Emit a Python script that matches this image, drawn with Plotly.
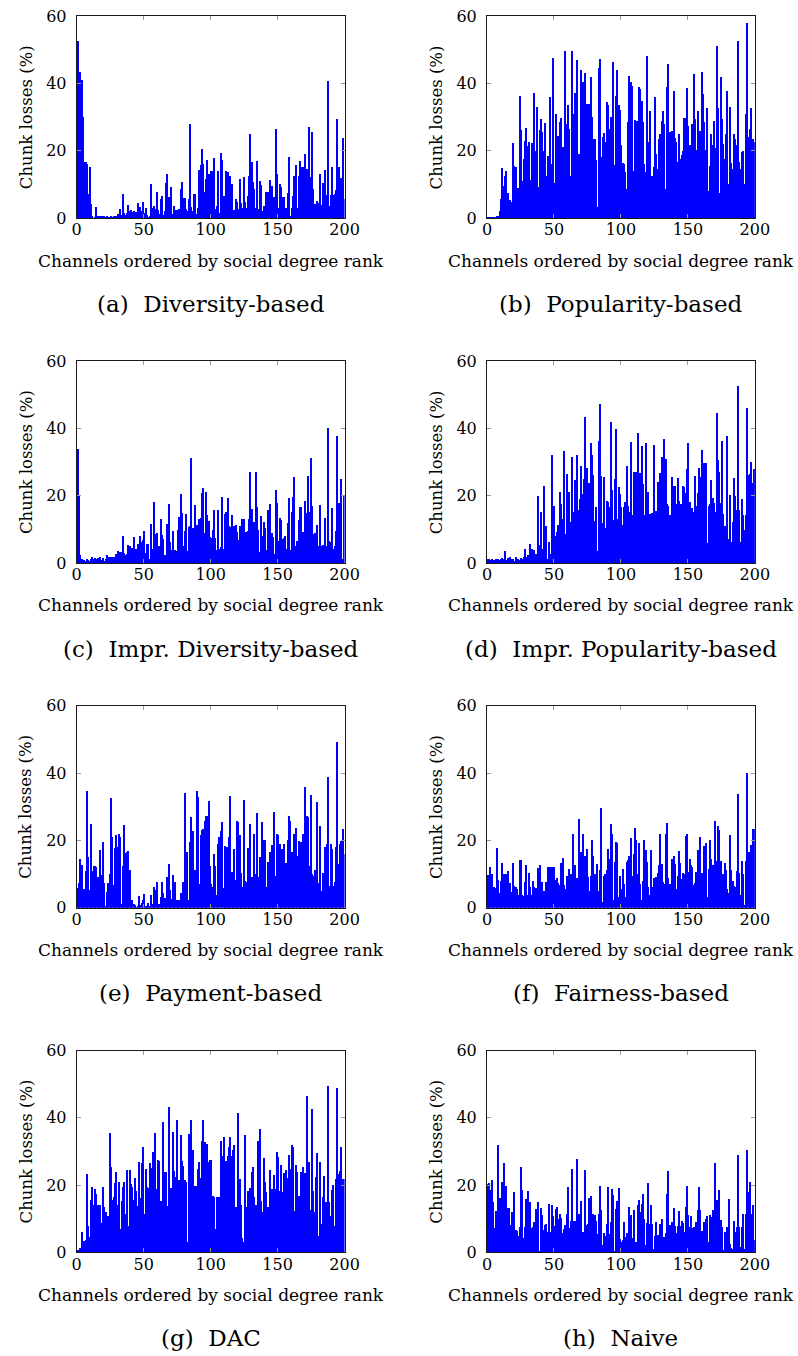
import plotly.graph_objects as go

# ---------------- data ----------------
ranks = list(range(1, 201))

diversity = [
    52.5, 43.5, 43.5, 41, 30, 16.5, 16.5, 16, 7, 15,
    4, 0.5, 0, 0.2, 3.2, 0.3, 0.2, 0.4, 0.5, 0.3,
    0.6, 0.2, 0.3, 0.1, 0.2, 0.4, 0.1, 0.3, 0.2, 0.4,
    1.2, 0.5, 2.7, 0.8, 7, 1.5, 0.8, 1.5, 3.9, 2,
    2.3, 1.8, 2, 1.5, 1.8, 4.5, 1.2, 3.2, 2, 4.6,
    1.5, 3, 0.8, 0.2, 0.3, 10.2, 2.9, 3.5, 2.5, 7.8,
    2.2, 1.2, 5.7, 6.6, 0.8, 2, 10.3, 13.1, 6.3, 3.6,
    9.2, 1.2, 3.4, 2.4, 2.2, 0.8, 2.5, 8.5, 10.5, 6,
    6, 2.7, 2, 5.7, 27.9, 3.2, 2, 7, 7, 1,
    3, 14.3, 15.8, 20.6, 16, 7.7, 11.4, 17.3, 13, 4.8,
    14, 14, 17.8, 2.7, 3.5, 14, 1.5, 19.2, 17.2, 6.6,
    5, 13.9, 13.6, 3, 12.4, 10.1, 2, 2.2, 5.5, 4.6,
    2.5, 11.4, 4.5, 3, 12, 4.6, 3, 6.5, 12.4, 25,
    16.5, 10.6, 8.6, 3, 17, 2.5, 11, 9.8, 2, 3.5,
    1, 7.6, 7.6, 4.8, 11.3, 9.5, 2.2, 6.1, 26.4, 13,
    3, 10.1, 9.1, 6.1, 6.1, 3, 3, 7.3, 18.2, 0.5,
    3, 6.5, 12.3, 15.8, 3, 12.3, 17, 15, 15, 5,
    19, 14.5, 12, 27, 12, 25.4, 8.6, 4, 3.5, 5.1,
    4.5, 13, 3.8, 10.4, 1.5, 14.3, 6.8, 40.7, 3.5, 6.8,
    15, 6.8, 7, 8.4, 29.5, 15, 11.6, 11.8, 23.6, 5.6,
]

popularity = [
    0.2, 0.2, 0.2, 0.2, 0.2, 0.2, 0.2, 0.3, 0.3, 2,
    5.7, 14.8, 9.6, 12.4, 13.9, 7.3, 4.4, 5.4, 4.8, 22.3,
    15.5, 15, 6.6, 8.9, 36.3, 26.2, 10.9, 17.5, 22.7, 26.7,
    21.3, 22.5, 11.3, 22.2, 21, 37.2, 19.8, 32.8, 9.1, 26,
    29.3, 25.4, 20, 28.2, 12.4, 18.3, 15.5, 35.8, 16, 47.6,
    10.4, 31, 23.8, 24.3, 28.4, 29.7, 21, 21, 49.5, 27.9,
    33.6, 26.4, 12.4, 49.7, 31, 37, 15, 47, 19, 18.8,
    44, 40.5, 18, 43, 33.9, 23.5, 33.7, 41.8, 29.9, 23.5,
    23.3, 17.3, 3.2, 44.6, 47.2, 18, 24, 25.2, 22.5, 34.4,
    33.4, 26.4, 29.9, 30.1, 46.2, 15.8, 36.3, 43.8, 33.4, 32.2,
    21.5, 16.2, 16, 13.6, 8.6, 28.6, 42.3, 40.3, 39.3, 14,
    29.1, 28.9, 28.9, 39, 38.2, 34.6, 28.4, 16, 13.6, 48.2,
    22.5, 31.9, 4.7, 12.3, 15, 35.8, 19, 14.6, 23.5, 25,
    28.9, 31.9, 27.9, 8.6, 38.8, 45.7, 25.4, 3.7, 25.7, 37.8,
    23.7, 22.5, 16.5, 25, 17.5, 18.8, 20, 29.7, 29.6, 38.5,
    27.4, 21.7, 21.7, 27.9, 42.8, 29.4, 20.2, 31.9, 24, 25.7,
    43.3, 36.8, 28.6, 20.2, 32.7, 8.1, 15.3, 24.8, 21.5, 28.7,
    20.8, 51.2, 32.7, 7.3, 42, 29.4, 22, 17.5, 25, 37.8,
    10.1, 32.9, 16.2, 14.6, 25, 23.5, 21.7, 52.7, 16.5, 14.6,
    19.5, 20, 10.1, 30.9, 57.8, 24, 26.4, 32.7, 23.5, 22.5,
]

impr_diversity = [
    33.9, 20, 2.2, 1, 0.6, 0.8, 0.5, 1, 0.7, 0.6,
    1.2, 1.6, 1.2, 1.4, 1, 1.4, 1, 1.8, 0.8, 1.4,
    0.6, 1, 2.4, 1.6, 1.8, 1.4, 1.8, 1.8, 1.8, 2.5,
    3.5, 3.2, 3.2, 3.2, 8, 2.9, 2.4, 2.6, 5.3, 5.1,
    3.7, 4.4, 7.7, 4, 4.2, 5.7, 5.6, 8, 6.3, 6.7,
    9.6, 2.9, 5.6, 5.6, 1.2, 11.4, 4.2, 18.2, 8.6, 8.9,
    4.5, 5.1, 13.1, 8.4, 7.1, 2.2, 1.5, 11.4, 17.5, 6.3,
    3.7, 9.6, 3.6, 3.7, 3.6, 9.9, 13.6, 20.5, 14.8, 5,
    9.6, 14.4, 3.6, 10.6, 10.9, 31.1, 10.4, 2.4, 17.3, 11.3,
    5.1, 12.9, 13.4, 20.8, 22.3, 8.9, 21.2, 14.1, 12.4, 7.6,
    7.3, 9.8, 15.7, 7.3, 3.8, 15.8, 4, 4.7, 19.5, 4.2,
    14.4, 15, 19.2, 10.9, 10.6, 14.1, 5.1, 10.9, 11.1, 9.1,
    6.9, 10.9, 4.9, 13.1, 13.1, 6.6, 9.1, 9.4, 12.9, 26.9,
    16, 3.2, 12.1, 26.9, 16.5, 9.8, 3.2, 13.8, 8.1, 12.1,
    10.4, 3.7, 15.8, 6.3, 17.5, 8.9, 7.6, 2.7, 21.5, 17.8,
    6.6, 13.3, 12.6, 7.1, 7.4, 7.9, 4.2, 11.9, 19.3, 3.9,
    15, 19.5, 25.6, 5.1, 6.4, 12.6, 16.5, 16.5, 9.1, 9.1,
    18.3, 14.8, 25.9, 15, 31.2, 16.8, 8.6, 8.9, 5.3, 11.3,
    5, 17.3, 5.1, 5.3, 5.4, 13.3, 5.1, 40, 6.5, 6.1,
    16.3, 4.2, 5.1, 9.6, 37.6, 17.7, 9.4, 24.9, 1.2, 20,
]

impr_popularity = [
    1, 1.2, 0.8, 1, 0.6, 0.8, 1, 0.5, 1, 0.8,
    1.2, 1.4, 1, 3.4, 0.8, 1.4, 1.2, 1.6, 1.2, 1,
    0.6, 1.6, 1, 1.2, 0.8, 1.4, 1, 1.8,
    4.2, 1.8, 2.4, 1.8, 5.6, 4.2, 3.2, 3.7, 2.7, 1.6,
    19.8, 5.4, 15, 4, 22.7, 10.1, 10.8, 1.2, 6.3, 2.7,
    32.2, 16.5, 17, 8.1, 9.1, 11.1, 21, 17.5, 12.9, 33.1,
    8.6, 26.4, 10.8, 21, 12.1, 31.6, 15, 24.5, 15.2, 32.1,
    15.8, 19, 28.9, 20.5, 24.8, 43.3, 28.1, 17, 23.8, 35.6,
    32.1, 26.2, 12.3, 16.5, 3.4, 36.3, 47.2, 25.9, 11.9, 25.4,
    10.3, 18.5, 18.2, 16.5, 42, 21.7, 12.8, 24.8, 39.8, 12.9,
    22.5, 20.5, 16.5, 11.3, 16.5, 18, 28.7, 17, 15, 35.8,
    14.1, 27.1, 26.9, 26.9, 38.6, 14.6, 26.7, 34.7, 23.5, 14.1,
    35.5, 14.9, 21, 14.6, 13.8, 14.8, 34.9, 15.3, 15.5, 24,
    21, 26.7, 31.6, 11.1, 36.8, 30.9, 17.5, 17, 14.1, 3.7,
    25.4, 22.8, 22.8, 17.5, 25.1, 18.5, 17.5, 17.5, 22.8, 22.5,
    20.8, 27.9, 35.6, 18, 12.3, 16.2, 15, 25.9, 17, 20.8,
    28.2, 25.4, 33.6, 17.5, 29.7, 29.7, 5.8, 16.8, 17.5, 24.5,
    19.2, 17.8, 15.2, 44.6, 30.6, 26.9, 17.8, 36.3, 14.6, 10.9,
    8.1, 37.8, 7.1, 20.2, 6.1, 12.1, 25.2, 20, 15.8, 52.5,
    15.8, 6.1, 19, 14.3, 9.9, 14.1, 46, 26.1, 26.4, 29.9,
    23.7, 27.9,
]

payment = [
    5.9, 7.3, 14.4, 12.6, 2.5, 5.6, 10.9, 34.6, 15, 5.3,
    24.9, 10.9, 12.4, 12.4, 12.1, 9.1, 1, 17.3, 9.9, 19.5,
    7.4, 0.4, 4.7, 7.3, 10.1, 32.7, 21, 6.9, 17.8, 21.6,
    18, 21.8, 21, 1, 12.4, 24.7, 16.3, 16.5, 16.8, 11.3,
    1.7, 2.2, 1.2, 0.9, 0.2, 0.3, 3.5, 0.8, 1.5, 2.2,
    4.2, 0.4, 0.3, 1.4, 0.6, 3.9, 1.2, 6.1, 5.4, 7.6,
    0.9, 1, 3.2, 7.6, 4.5, 2.9, 1.5, 9.3, 13, 5.3,
    2.7, 9.9, 1.7, 7.6, 2.4, 2.2, 2.2, 4.4, 4.4, 7.6,
    34.2, 13.1, 16.5, 2.2, 19.5, 27.1, 22.7, 0.7, 11.3, 34.6,
    32.9, 7.1, 21.7, 23.2, 23.3, 25.9, 27.2, 27.4, 31.7, 12.4,
    7.1, 6.1, 16, 12.3, 3.7, 19, 21.2, 22.8, 25.4, 5.8,
    18.5, 18, 18, 21.2, 33.2, 10.6, 9.6, 17.5, 8.4, 25.9,
    25.4, 21.5, 10.3, 6.1, 32.2, 8.1, 7.6, 17.7, 8.3, 24.8,
    9.1, 5.9, 22, 10.1, 28.2, 9.1, 15.2, 8.6, 25.4, 20.2,
    20.2, 6.1, 13.6, 9.1, 16.5, 18.8, 13.1, 28.4, 9.6, 22,
    21.5, 19, 12.9, 17.5, 19, 4.5, 13.4, 20.2, 27.4, 25.7,
    16.7, 13.3, 22, 23.7, 15.5, 20, 9.1, 19.7, 22, 18.5,
    36, 27.4, 26.9, 12.4, 33.4, 10.1, 9.4, 11.1, 11.1, 31.4,
    7.3, 24.2, 5, 10.3, 10.1, 18, 19, 39, 6.6, 19,
    17.5, 6.6, 7.6, 18, 49.2, 13.1, 19, 20, 23.5, 16,
]

fairness = [
    9.9, 9.9, 12.1, 10.1, 4.4, 6.3, 5.9, 17.7, 8.4, 4.4,
    8.1, 13.4, 10.1, 9.6, 10.1, 10.9, 2, 7.4, 4.7, 13.3,
    6.4, 6.3, 5.6, 3.7, 14.1, 14.3, 3.9, 3.4, 7.8, 12.6,
    3.7, 10.4, 6.1, 3.7, 7.9, 6.1, 5.8, 3.2, 11.9, 12.6,
    3.5, 7.8, 5.1, 3.4, 7.8, 12.1, 5.3, 12.1, 12.1, 8.3,
    12.1, 8.4, 8.9, 7.4, 6.8, 13.4, 14.9, 6.9, 5.6, 9.6,
    5.6, 11.6, 10.1, 5.6, 21.8, 12.6, 8.1, 8.9, 26.4, 5.1,
    16.5, 21.8, 12.6, 15.5, 17.5, 9.1, 4.9, 9.6, 20.2, 15.3,
    10.1, 10.1, 13.1, 5.1, 11.1, 29.7, 1.7, 9.6, 10.1, 11.1,
    17.5, 14.6, 24.8, 22, 2.2, 13.6, 19.5, 19.3, 3.2, 9.6,
    5.6, 11.4, 7.1, 3.2, 13.6, 14.1, 15.5, 20.7, 9.6, 16,
    23.7, 20.2, 10.1, 19.2, 7.1, 2.2, 8.1, 20.3, 17.3, 13.6,
    6.1, 3.7, 17.3, 6.1, 8.8, 6.1, 9.1, 10.3, 12.8, 21.8,
    12.9, 7.6, 7.1, 22, 25.2, 8.9, 7.1, 3.7, 14.6, 15.3,
    13.1, 5.6, 9.6, 17, 13.4, 8.6, 10.3, 10.1, 21.3, 22,
    10.6, 14.6, 12.6, 12.1, 6.9, 7.3, 10.6, 17.2, 14.6, 21.2,
    10.3, 7.6, 18.5, 19.3, 3.2, 11.6, 20.2, 14.6, 12.6, 12.6,
    25.9, 13.9, 24.3, 23, 13.9, 7.6, 10.1, 13.4, 11.1, 5.6,
    4.4, 21.5, 11.1, 8.1, 6.4, 6.1, 10.8, 33.9, 10.3, 3.7,
    13.8, 10.1, 0.7, 13.8, 40.1, 16.5, 14.3, 18.8, 23.5, 23.5,
]

dac = [
    0.7, 0.5, 1.4, 6.1, 1, 3.4, 3.7, 23.5, 8.1, 4.7,
    15.7, 19.7, 14.3, 19, 17.5, 14.1, 5.6, 14.1, 8.9, 19.5,
    13.6, 12.1, 6.6, 10.8, 35.6, 25.6, 15.7, 16.5, 20.7, 24,
    14.1, 21.2, 7.1, 15.5, 19.7, 21.2, 11.6, 24.7, 8.1, 24.6,
    20.5, 19.5, 15.8, 22.2, 18.5, 13.9, 26.9, 16.2, 26.7, 31.4,
    11.6, 24.9, 19.5, 19.3, 26.7, 25.1, 29.9, 28.1, 35.5, 19,
    27.6, 27.4, 15.5, 12.6, 39, 24, 24, 13.8, 43.3, 9.8,
    19.3, 36, 24.2, 22.5, 39.6, 19.2, 21.5, 34.9, 27.2, 25.9,
    21.5, 21, 3.2, 35.3, 35.3, 39.6, 30.6, 8.6, 19.8, 20,
    24.9, 26.9, 22.2, 33.2, 39.6, 32.9, 32.2, 32.4, 27.1, 27.7,
    27.5, 17, 16.5, 7.1, 16.7, 6.1, 16.7, 33.1, 28.9, 34.4,
    6.1, 27.4, 28.7, 31.4, 34.4, 28.9, 30.7, 32.1, 13.6, 10.1,
    41.5, 22, 14.3, 4.4, 3.2, 34.9, 13.6, 18.3, 18, 19.2,
    24, 25.4, 16.5, 14.1, 12.1, 33.1, 36.8, 15.5, 12.1, 28.1,
    21, 18, 13.6, 13.6, 24.5, 19, 19, 23, 19, 30.1,
    28.4, 18.3, 26.2, 18, 23.8, 17.5, 24.5, 22.2, 29.1, 24.9,
    32.2, 31.4, 12.3, 26.1, 24, 17, 13.6, 24, 25.4, 17.3,
    23.8, 46.5, 24.5, 26.9, 12.6, 42.8, 18.5, 12.1, 22.5, 29.7,
    5.1, 26.9, 8.6, 16.7, 22.7, 15, 15, 49.5, 15, 10.9,
    18.8, 20.2, 8.1, 22, 49.1, 23.5, 24.2, 31.4, 22, 22,
]

naive = [
    20.5, 20.7, 18.8, 21.7, 15.2, 7.3, 12.3, 9.9, 32.1, 16.2,
    6.1, 21.2, 26.7, 20, 19.8, 13.3, 13.3, 8.4, 12.1, 5.3,
    18, 6.9, 6.6, 5.1, 7.6, 25.4, 18.8, 4.4, 7.6, 16,
    18.5, 10.3, 15, 7.4, 7.6, 9.3, 13.1, 9.3, 15.2, 0.5,
    13.3, 11.3, 6.9, 8.4, 8.6, 6.1, 14.6, 6.1, 14.3, 10.8,
    8.1, 13.1, 13.6, 10.1, 11.6, 10.3, 5.8, 7.1, 8.3, 11.6,
    19.5, 7.3, 9.6, 24.9, 9.6, 9.6, 2.4, 27.9, 11.6, 6.1,
    15.3, 6.1, 5.9, 24.5, 8.3, 8.6, 16.2, 17, 11.6, 11.6,
    11.3, 9.6, 5.6, 11.6, 19.8, 12.8, 2.4, 5.9, 5.1, 8.6,
    19.5, 5.6, 9.1, 19, 17.2, 0.4, 12.9, 15.3, 19.3, 4.2,
    3.2, 3.7, 9.3, 4.7, 5.8, 3.2, 13.6, 11.1, 4.4, 12.6,
    2.7, 3.2, 14.3, 15.8, 12.1, 14.6, 17.5, 10.1, 2.2, 8.9,
    20.8, 8.6, 14.3, 8.6, 1.2, 5.1, 9.1, 5.3, 1.2, 8.6,
    10.1, 3.2, 4.7, 5.9, 17.5, 24.2, 8.3, 7.6, 9.1, 13.4,
    8.1, 5.9, 8.1, 12.3, 8.1, 9.6, 8.9, 6.1, 13.6, 19.8,
    11.1, 7.6, 10.9, 7.3, 7.6, 6.6, 9.1, 12.8, 19.5, 12.8,
    6.6, 5.1, 9.1, 10.1, 10.9, 3.2, 11.1, 10.6, 12.8, 2.4,
    26.7, 15.8, 13.9, 18.8, 9.9, 7.6, 0.7, 6.1, 2.4, 7.6,
    16, 2.7, 1.4, 1, 9.6, 6.1, 7.6, 29.1, 7.6, 1.7,
    7.6, 11.6, 1, 11.6, 30.7, 18, 21, 11.6, 14.1, 3.7,
]

captions = [
    "(a)\u00a0 Diversity-based", "(b)\u00a0 Popularity-based",
    "(c)\u00a0 Impr. Diversity-based", "(d)\u00a0 Impr. Popularity-based",
    "(e)\u00a0 Payment-based", "(f)\u00a0 Fairness-based",
    "(g)\u00a0 DAC", "(h)\u00a0 Naive",
]
series = [diversity, popularity, impr_diversity, impr_popularity,
          payment, fairness, dac, naive]

x_ticks = [0, 50, 100, 150, 200]
y_ticks = [0, 20, 40, 60]
x_title = "Channels ordered by social degree rank"
y_title = "Chunk losses (%)"

# ---------------- layout geometry ----------------
W, H = 798, 1364
FONT = "DejaVu Serif, Liberation Serif, serif"

# measured mapping from figure pixels to the photographed page:
# page = A + S * figure, so figure = (page - A) / S
AX, SX = 3.0, 0.979
AY, SY = 8.0, 0.987


def fig_x(page_px):
    return (page_px - AX) / SX


def fig_y(page_px):
    return (page_px - AY) / SY


col_left_page = [75, 487]
plot_w_page = 269
row_bottom_page = [217.3, 562.5, 907.5, 1252.5]
plot_h_page = 202

fig = go.Figure()
annotations = []
layout_axes = {}

for idx, (cap, vals) in enumerate(zip(captions, series)):
    r, c = divmod(idx, 2)
    n = idx + 1
    sfx = "" if n == 1 else str(n)
    xa, ya = "x" + sfx, "y" + sfx

    fig.add_trace(go.Bar(
        x=ranks, y=vals, offset=-1, width=1,
        marker=dict(color="#0000ff", line=dict(width=0)),
        xaxis=xa, yaxis=ya, showlegend=False, hoverinfo="skip",
    ))

    left = fig_x(col_left_page[c])
    right = fig_x(col_left_page[c] + plot_w_page)
    bottom = fig_y(row_bottom_page[r])
    top = fig_y(row_bottom_page[r] - plot_h_page)

    common = dict(
        showgrid=False, zeroline=False, showline=True, linecolor="#1a1a1a",
        linewidth=1, mirror="ticks", ticks="inside", ticklen=4,
        tickcolor="#9a9a9a", tickwidth=1,
        tickfont=dict(family=FONT, size=16, color="black"),
        fixedrange=True,
    )
    layout_axes["xaxis" + sfx] = dict(
        domain=[left / W, right / W], anchor=ya, range=[0, 200],
        tickmode="array", tickvals=x_ticks,
        ticktext=[str(v) for v in x_ticks],
        ticklabelstandoff=-3, **common)
    layout_axes["yaxis" + sfx] = dict(
        domain=[1 - bottom / H, 1 - top / H], anchor=xa, range=[0, 60],
        tickmode="array", tickvals=y_ticks,
        ticktext=[str(v) for v in y_ticks],
        ticklabelstandoff=6, **common)

    cx = (left + right) / 2 / W
    annotations.append(dict(
        text=x_title, x=cx, y=1 - (bottom + 43) / H, xref="paper", yref="paper",
        xanchor="center", yanchor="middle", showarrow=False,
        font=dict(family=FONT, size=17, color="black")))
    annotations.append(dict(
        text=cap, x=cx, y=1 - (bottom + 87) / H, xref="paper", yref="paper",
        xanchor="center", yanchor="middle", showarrow=False,
        font=dict(family=FONT, size=23, color="black")))
    annotations.append(dict(
        text=y_title, x=(left - 52) / W, y=1 - (bottom + top) / 2 / H,
        xref="paper", yref="paper", xanchor="center", yanchor="middle",
        textangle=-90, showarrow=False,
        font=dict(family=FONT, size=16.5, color="black")))

fig.update_layout(
    width=W, height=H,
    margin=dict(l=0, r=0, t=0, b=0),
    paper_bgcolor="white", plot_bgcolor="white",
    bargap=0, barmode="overlay",
    annotations=annotations,
    **layout_axes,
)

fig.write_html("out.html", config={"displayModeBar": False})
